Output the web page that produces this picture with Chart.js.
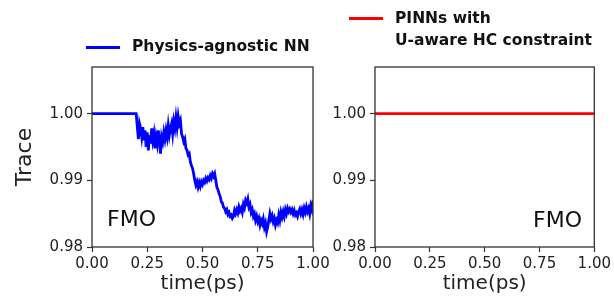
<!DOCTYPE html>
<html>
<head>
<meta charset="utf-8">
<script src="https://cdn.jsdelivr.net/npm/chart.js@4.4.1/dist/chart.umd.min.js"></script>
<style>
  body { margin: 0; background: #fff; font-family: "DejaVu Sans", sans-serif; }
  #wrap { position: relative; width: 614px; height: 296px; overflow: hidden; }
  canvas { position: absolute; top: 0; }
  .leg { position: absolute; font-weight: bold; font-size: 15.5px; color: #111; white-space: nowrap; line-height: 1; }
  .swatch { position: absolute; height: 3px; }
  .tag { position: absolute; font-size: 22px; color: #111; line-height: 1; }
</style>
</head>
<body>
<div id="wrap">
  <canvas id="left" width="340" height="296" style="left:0"></canvas>
  <canvas id="right" width="294" height="296" style="left:320px"></canvas>

  <div class="swatch" style="left:86px; top:46px; width:34px; background:#0000ff"></div>
  <div class="leg" style="left:132px; top:39px">Physics-agnostic NN</div>

  <div class="swatch" style="left:349px; top:17px; width:34px; background:#ff0000"></div>
  <div class="leg" style="left:395px; top:11px">PINNs with</div>
  <div class="leg" style="left:395px; top:33px">U-aware HC constraint</div>

  <div class="tag" style="left:107px; top:208px">FMO</div>
  <div class="tag" style="left:533px; top:209px">FMO</div>
</div>
<script>
// time axis (ps) and trace values
const timeNN = [0.000, 0.200, 0.205, 0.210, 0.215, 0.220, 0.225, 0.230, 0.235, 0.240, 0.245,
  0.250, 0.255, 0.260, 0.265, 0.270, 0.275, 0.280, 0.285, 0.290, 0.295,
  0.300, 0.305, 0.310, 0.315, 0.320, 0.325, 0.330, 0.335, 0.340, 0.345,
  0.350, 0.355, 0.360, 0.365, 0.370, 0.375, 0.380, 0.385, 0.390, 0.395,
  0.400, 0.405, 0.410, 0.415, 0.420, 0.425, 0.430, 0.435, 0.440, 0.445,
  0.450, 0.455, 0.460, 0.465, 0.470, 0.475, 0.480, 0.485, 0.490, 0.495,
  0.500, 0.505, 0.510, 0.515, 0.520, 0.525, 0.530, 0.535, 0.540, 0.545,
  0.550, 0.555, 0.560, 0.565, 0.570, 0.575, 0.580, 0.585, 0.590, 0.595,
  0.600, 0.605, 0.610, 0.615, 0.620, 0.625, 0.630, 0.635, 0.640, 0.645,
  0.650, 0.655, 0.660, 0.665, 0.670, 0.675, 0.680, 0.685, 0.690, 0.695,
  0.700, 0.705, 0.710, 0.715, 0.720, 0.725, 0.730, 0.735, 0.740, 0.745,
  0.750, 0.755, 0.760, 0.765, 0.770, 0.775, 0.780, 0.785, 0.790, 0.795,
  0.800, 0.805, 0.810, 0.815, 0.820, 0.825, 0.830, 0.835, 0.840, 0.845,
  0.850, 0.855, 0.860, 0.865, 0.870, 0.875, 0.880, 0.885, 0.890, 0.895,
  0.900, 0.905, 0.910, 0.915, 0.920, 0.925, 0.930, 0.935, 0.940, 0.945,
  0.950, 0.955, 0.960, 0.965, 0.970, 0.975, 0.980, 0.985, 0.990, 0.995, 1.000];
const traceNN = [1.0000, 1.0000, 0.9980, 0.9962, 0.9985, 0.9978, 0.9965, 0.9980, 0.9960, 0.9975, 0.9950,
  0.9972, 0.9945, 0.9968, 0.9955, 0.9978, 0.9960, 0.9970, 0.9948, 0.9965, 0.9955,
  0.9975, 0.9960, 0.9940, 0.9965, 0.9958, 0.9972, 0.9962, 0.9975, 0.9965, 0.9982,
  0.9968, 0.9978, 0.9985, 0.9970, 0.9988, 0.9978, 0.9994, 0.9980, 0.9996, 0.9985,
  0.9990, 0.9970, 0.9965, 0.9958, 0.9962, 0.9948, 0.9945, 0.9938, 0.9940, 0.9928,
  0.9922, 0.9918, 0.9910, 0.9900, 0.9893, 0.9898, 0.9890, 0.9897, 0.9891, 0.9898,
  0.9894, 0.9900, 0.9897, 0.9903, 0.9899, 0.9904, 0.9901, 0.9907, 0.9903, 0.9910,
  0.9906, 0.9910, 0.9900, 0.9890, 0.9886, 0.9880, 0.9876, 0.9868, 0.9866, 0.9860,
  0.9858, 0.9853, 0.9856, 0.9849, 0.9852, 0.9846, 0.9848, 0.9843, 0.9846, 0.9855,
  0.9850, 0.9856, 0.9851, 0.9860, 0.9854, 0.9858, 0.9852, 0.9864, 0.9859, 0.9870,
  0.9866, 0.9872, 0.9860, 0.9864, 0.9852, 0.9856, 0.9846, 0.9850, 0.9840, 0.9846,
  0.9838, 0.9843, 0.9833, 0.9840, 0.9835, 0.9842, 0.9830, 0.9836, 0.9823, 0.9830,
  0.9840, 0.9850, 0.9842, 0.9847, 0.9838, 0.9843, 0.9833, 0.9840, 0.9836, 0.9848,
  0.9840, 0.9852, 0.9845, 0.9853, 0.9846, 0.9856, 0.9850, 0.9858, 0.9853, 0.9857,
  0.9852, 0.9856, 0.9850, 0.9855, 0.9848, 0.9851, 0.9846, 0.9853, 0.9857, 0.9850,
  0.9856, 0.9849, 0.9858, 0.9852, 0.9860, 0.9853, 0.9858, 0.9850, 0.9862, 0.9856, 0.9870];
const timeHC = [0.00, 1.00];
const traceHC = [1.00, 1.00];
const xTicks = [0, 0.25, 0.5, 0.75, 1.0];
const yTicks = [0.98, 0.99, 1.00];

const FONT = "DejaVu Sans";
const AXIS = '#333';

// full box around the plot area, like matplotlib spines
const frame = {
  id: 'frame',
  afterDatasetsDraw(chart) {
    const a = chart.chartArea, c = chart.ctx;
    c.save();
    c.strokeStyle = AXIS;
    c.lineWidth = 1.3;
    c.strokeRect(a.left, a.top, a.right - a.left, a.bottom - a.top);
    c.restore();
  }
};

function makeChart(id, xs, ys, color, yAxisWidth, rightPad, withTitle) {
  const pts = xs.map((x, i) => ({ x: x, y: ys[i] }));
  return new Chart(document.getElementById(id), {
    type: 'line',
    data: { datasets: [{ data: pts, borderColor: color, borderWidth: 2.8, pointRadius: 0, tension: 0 }] },
    options: {
      responsive: false,
      animation: false,
      devicePixelRatio: 1,
      layout: { padding: { left: 0, right: rightPad, top: 67, bottom: 0 } },
      plugins: { legend: { display: false }, tooltip: { enabled: false } },
      scales: {
        x: {
          type: 'linear', min: 0, max: 1,
          afterBuildTicks: s => { s.ticks = xTicks.map(v => ({ value: v })); },
          afterFit: s => { s.height = 49; },
          grid: { drawOnChartArea: false, tickLength: 5, color: AXIS, tickWidth: 1.2 },
          border: { display: false },
          ticks: { color: '#222', font: { family: FONT, size: 15 }, padding: 3, maxRotation: 0,
                   callback: v => v.toFixed(2) },
          title: { display: true, text: 'time(ps)', color: '#222', font: { family: FONT, size: 20 }, padding: { top: -1, bottom: 0 } }
        },
        y: {
          min: 0.98, max: 1.007,
          afterBuildTicks: s => { s.ticks = yTicks.map(v => ({ value: v })); },
          afterFit: s => { s.width = yAxisWidth; },
          grid: { drawOnChartArea: false, tickLength: 5, color: AXIS, tickWidth: 1.2 },
          border: { display: false },
          ticks: { color: '#222', font: { family: FONT, size: 15 }, padding: 4,
                   callback: v => v.toFixed(2) },
          title: { display: withTitle, text: 'Trace', color: '#222', font: { family: FONT, size: 22 }, padding: { top: 12, bottom: 0 } }
        }
      }
    },
    plugins: [frame]
  });
}

makeChart('left', timeNN, traceNN, '#0000ff', 92, 27, true);
makeChart('right', timeHC, traceHC, '#ff0000', 55, 19, false);
</script>
</body>
</html>
